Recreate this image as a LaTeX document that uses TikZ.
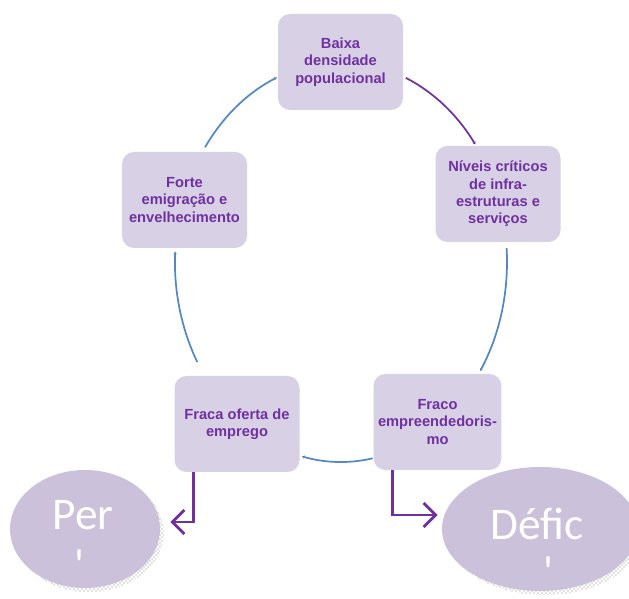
\documentclass[tikz,border=0pt]{standalone}
\usepackage{fontspec}
\setmainfont{Liberation Sans}
\newfontfamily\calibri{Carlito}
\usetikzlibrary{positioning,shapes.geometric,arrows.meta,patterns}
\definecolor{roxo}{RGB}{112,48,160}
\definecolor{lilas}{RGB}{216,209,230}
\definecolor{lilasesc}{RGB}{204,193,218}
\definecolor{azul}{RGB}{84,136,196}
\tikzset{
  caixa/.style={fill=lilas, rounded corners=9pt, minimum width=93.75pt,
    minimum height=72pt, align=center, text=roxo,
    font=\fontsize{11}{13}\selectfont\bfseries},
  bolha/.style={ellipse, fill=lilasesc, inner sep=0pt},
  sombra/.style={pattern=crosshatch dots, pattern color=black!50},
  grande/.style={text=white, font=\calibri\fontsize{34}{40}\selectfont, inner sep=0pt, anchor=base},
  ciclo/.style={line width=1.3pt, -{Stealth[length=2pt,width=2.5pt]}},
  seta/.style={roxo, line width=2.2pt, -{Straight Barb[length=9pt,width=18pt]}}
}

\begin{document}
\begin{tikzpicture}[x=0.75pt,y=0.75pt]
  \useasboundingbox (0,0) rectangle (629,599);
  \clip (0,0) rectangle (629,599);
  \coordinate (o) at (341,337);

  \node[caixa] (baixa) at (340.5,537) {Baixa\\densidade\\populacional};
  \node[caixa] (niveis) at (498,405) {Níveis críticos\\de infra-\\estruturas e\\serviços};
  \node[caixa] (fraco) at (437.5,177) {Fraco\\empreendedoris-\\mo};
  \node[caixa] (oferta) at (237,175) {Fraca oferta de\\emprego};
  \node[caixa] (forte) at (184.5,399) {Forte\\emigração e\\envelhecimento};

  \foreach \ini/\fim/\cor [count=\i] in {67/36/roxo, 4/-33/azul, -79/-103.6/azul, -150/-183/azul, 145/112.7/azul} {
    \coordinate (p\i) at ([shift={(\ini:166 and 200)}]o);
    \draw[ciclo, \cor] (p\i) arc[start angle=\ini, end angle=\fim, x radius=166, y radius=200];
  }

  \fill[sombra] (89,66) ellipse [x radius=75, y radius=59];
  \node[bolha, minimum width=112.5pt, minimum height=88.5pt] (per) at (85,70) {};
  \fill[sombra] (545,66) ellipse [x radius=98, y radius=62];
  \node[bolha, minimum width=147pt, minimum height=93pt] (defic) at (540,70) {};

  \node[grande] (perTxt) at (83,69) {Per};
  \node[grande] (perRest) at (80,18) {'};
  \node[grande] (deficTxt) at (537,59) {Défic};
  \node[grande] (deficRest) at (548,11) {'};

  \draw[seta] ([xshift=14.25pt]oferta.south west) |- ([xshift=7.5pt,yshift=5.25pt]per.east);
  \draw[seta] ([xshift=14.25pt]fraco.south west) |- ([xshift=-3pt,yshift=10.5pt]defic.west);
\end{tikzpicture}
\end{document}
